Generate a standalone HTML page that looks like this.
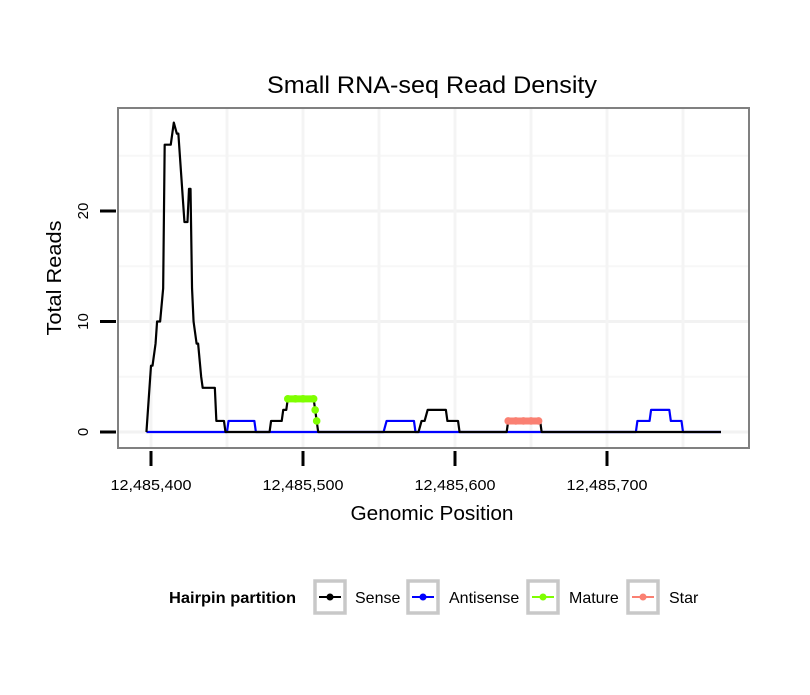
<!DOCTYPE html>
<html><head><meta charset="utf-8"><style>
body{margin:0;background:#fff;}
svg text{font-family:"Liberation Sans","DejaVu Sans",sans-serif;}
</style></head><body>
<svg id="chart" width="810" height="690" xmlns="http://www.w3.org/2000/svg">
<text x="432" y="93" font-size="24" text-anchor="middle" textLength="330" lengthAdjust="spacingAndGlyphs">Small RNA-seq Read Density</text>
<rect x="118" y="108" width="631" height="340" fill="#fff"/>
<g id="grid"></g>
<g id="series"></g>
<rect x="118" y="108" width="631" height="340" fill="none" stroke="#808080" stroke-width="2"/>
<g id="axes"></g>
<text x="432" y="520" font-size="20" text-anchor="middle" textLength="163" lengthAdjust="spacingAndGlyphs">Genomic Position</text>
<text transform="translate(61,278) rotate(-90)" font-size="20" text-anchor="middle" textLength="115" lengthAdjust="spacingAndGlyphs">Total Reads</text>
<g>
<text x="169" y="603" font-size="16" font-weight="bold" textLength="127" lengthAdjust="spacingAndGlyphs">Hairpin partition</text>
<g><rect x="315" y="581" width="30" height="32" fill="#fff" stroke="#c8c8c8" stroke-width="3.5"/><line x1="319" y1="597" x2="341" y2="597" stroke="#000" stroke-width="2"/><circle cx="330" cy="597" r="3.5" fill="#000"/><text x="355" y="603" font-size="16">Sense</text></g>
<g><rect x="408" y="581" width="30" height="32" fill="#fff" stroke="#c8c8c8" stroke-width="3.5"/><line x1="412" y1="597" x2="434" y2="597" stroke="#0000ff" stroke-width="2"/><circle cx="423" cy="597" r="3.5" fill="#0000ff"/><text x="449" y="603" font-size="16">Antisense</text></g>
<g><rect x="528" y="581" width="30" height="32" fill="#fff" stroke="#c8c8c8" stroke-width="3.5"/><line x1="532" y1="597" x2="554" y2="597" stroke="#7fff00" stroke-width="2"/><circle cx="543" cy="597" r="3.5" fill="#7fff00"/><text x="569" y="603" font-size="16">Mature</text></g>
<g><rect x="628" y="581" width="30" height="32" fill="#fff" stroke="#c8c8c8" stroke-width="3.5"/><line x1="632" y1="597" x2="654" y2="597" stroke="#fa8072" stroke-width="2"/><circle cx="643" cy="597" r="3.5" fill="#fa8072"/><text x="669" y="603" font-size="16">Star</text></g>
</g>
</svg>
<script>
const xTicks = [12485400, 12485500, 12485600, 12485700];
const xTickLabels = ["12,485,400", "12,485,500", "12,485,600", "12,485,700"];
const yTicks = [0, 10, 20];
const yTickLabels = ["0", "10", "20"];
const sensePos = [397,400,401,403,404,406,408,409,413,415,417,418,420,421,422,424,425,426,427,428,430,431,433,434,442,443,448,449,478,479,486,487,489,490,507,508,510,576,578,580,582,594,595,602,603,634,635,656,657,775];
const senseVal = [0,6,6,8,10,10,13,26,26,28,27,27,23,21,19,19,22,22,13,10,8,8,5,4,4,1,1,0,0,1,1,2,2,3,3,2,0,0,1,1,2,2,1,1,0,0,1,1,0,0];
const antiPos = [397,450,451,468,469,553,555,573,574,719,720,728,729,741,742,749,750,775];
const antiVal = [0,0,1,1,0,0,1,1,0,0,1,1,2,2,1,1,0,0];
const maturePos = [490,495,500,507,508,509];
const matureVal = [3,3,3,3,2,1];
const starPos = [635,640,645,650,655];
const starVal = [1,1,1,1,1];

const NS = "http://www.w3.org/2000/svg";
const xs = p => 151 + (p - 12485400) * 1.52;
const ys = v => 432 - v * 11.05;
const X = p => xs(12485000 + p);
function mk(tag, attrs, parent){const e=document.createElementNS(NS,tag);for(const k in attrs)e.setAttribute(k,attrs[k]);parent.appendChild(e);return e;}
const grid=document.getElementById('grid'), ser=document.getElementById('series'), ax=document.getElementById('axes');
[0,5,10,15,20,25].forEach(v=>{const l=mk('line',{x1:118,x2:749,y1:ys(v),y2:ys(v),stroke:v%10?'#f7f7f7':'#f2f2f2','stroke-width':v%10?2:3},grid);

});
[12485450,12485550,12485650,12485750].concat(xTicks).forEach(p=>{const l=mk('line',{x1:xs(p),x2:xs(p),y1:108,y2:448,stroke:'#f4f4f4','stroke-width':3},grid);

});
xTicks.forEach((p,i)=>{const t=mk('line',{x1:xs(p),x2:xs(p),y1:451,y2:466,stroke:'#000','stroke-width':3},ax);


const tx=mk('text',{x:xs(p),y:490,'font-size':15,'text-anchor':'middle',textLength:81,lengthAdjust:'spacingAndGlyphs'},ax);tx.textContent=xTickLabels[i];

});
yTicks.forEach((v,i)=>{const t=mk('line',{x1:100,x2:116,y1:ys(v),y2:ys(v),stroke:'#000','stroke-width':3},ax);


const tx=mk('text',{transform:`translate(88,${ys(v)}) rotate(-90)`,'font-size':15,'text-anchor':'middle'},ax);tx.textContent=yTickLabels[i];

});
function pts(P,V){return P.map((p,i)=>X(p)+','+ys(V[i])).join(' ');}
const a=mk('polyline',{points:pts(antiPos,antiVal),fill:'none',stroke:'#0000ff','stroke-width':2.2,'stroke-linejoin':'round'},ser);


const s=mk('polyline',{points:pts(sensePos,senseVal),fill:'none',stroke:'#000','stroke-width':2.2,'stroke-linejoin':'round'},ser);


const m=mk('polyline',{points:pts(maturePos.slice(0,4),matureVal.slice(0,4)),fill:'none',stroke:'#7fff00','stroke-width':7,'stroke-linecap':'round'},ser);


maturePos.forEach((p,i)=>{const c=mk('circle',{cx:X(p),cy:ys(matureVal[i]),r:3.8,fill:'#7fff00'},ser);

});
const st=mk('polyline',{points:pts(starPos,starVal),fill:'none',stroke:'#fa8072','stroke-width':7,'stroke-linecap':'round'},ser);


starPos.forEach((p,i)=>{const c=mk('circle',{cx:X(p),cy:ys(starVal[i]),r:3.8,fill:'#fa8072'},ser);

});
</script>
</body></html>
